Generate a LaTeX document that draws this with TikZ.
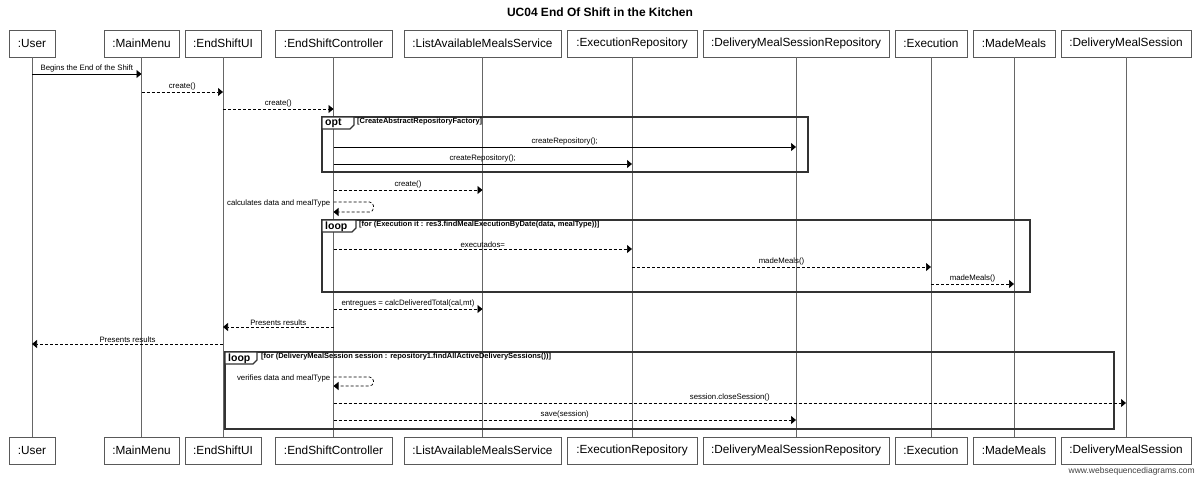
\documentclass[tikz,border=0pt]{standalone}
\usepackage{fontspec}
\setmainfont{Liberation Sans}
\usetikzlibrary{arrows.meta}
\tikzset{
 actor/.style={draw=black!65, line width=0.8pt, fill=white, minimum height=27pt, inner sep=0pt, font=\fontsize{11.8}{14}\selectfont},
 life/.style={draw=black!60, line width=0.9pt},
 msg/.style={-{Triangle[length=5pt,width=8pt]}, line width=0.7pt},
 ret/.style={msg, dash pattern=on 3pt off 2pt},
 lbl/.style={font=\fontsize{7.8}{9}\selectfont, inner sep=1.2pt, above},
 selflbl/.style={font=\fontsize{7.8}{9}\selectfont, inner sep=0pt, anchor=east},
 frame/.style={draw=black!80, line width=1.6pt},
 tabshape/.style={draw=black!80, line width=1.2pt, fill=white},
 guard/.style={font=\bfseries\fontsize{7.5}{9}\selectfont, anchor=west, inner sep=0pt},
 tablbl/.style={font=\bfseries\fontsize{10.5}{12}\selectfont, anchor=west, inner sep=0pt}
}
\begin{document}
\begin{tikzpicture}[x=1pt,y=-1pt]
\useasboundingbox[fill=white] (0,0) rectangle (1200,479);
\node[font=\bfseries\fontsize{12}{14}\selectfont] (title) at (600,12.5) {UC04 End Of Shift in the Kitchen};
% top actors
\node[actor, minimum width=46pt] (user) at (32,43.5) {:User};
\node[actor, minimum width=75pt] (menu) at (141.5,43.5) {:MainMenu};
\node[actor, minimum width=76pt] (ui) at (223,43.5) {:EndShiftUI};
\node[actor, minimum width=117pt] (ctrl) at (333.5,43.5) {:EndShiftController};
\node[actor, minimum width=157pt] (lams) at (482.5,43.5) {:ListAvailableMealsService};
\node[actor, minimum width=130pt] (erepo) at (632,43.5) {:ExecutionRepository};
\node[actor, minimum width=186pt] (drepo) at (796,43.5) {:DeliveryMealSessionRepository};
\node[actor, minimum width=72pt] (exec) at (931,43.5) {:Execution};
\node[actor, minimum width=82pt] (made) at (1014,43.5) {:MadeMeals};
\node[actor, minimum width=130pt] (dms) at (1126,43.5) {:DeliveryMealSession};
% bottom actors
\node[actor, minimum width=46pt] (userB) at (32,450.5) {:User};
\node[actor, minimum width=75pt] (menuB) at (141.5,450.5) {:MainMenu};
\node[actor, minimum width=76pt] (uiB) at (223,450.5) {:EndShiftUI};
\node[actor, minimum width=117pt] (ctrlB) at (333.5,450.5) {:EndShiftController};
\node[actor, minimum width=157pt] (lamsB) at (482.5,450.5) {:ListAvailableMealsService};
\node[actor, minimum width=130pt] (erepoB) at (632,450.5) {:ExecutionRepository};
\node[actor, minimum width=186pt] (drepoB) at (796,450.5) {:DeliveryMealSessionRepository};
\node[actor, minimum width=72pt] (execB) at (931,450.5) {:Execution};
\node[actor, minimum width=82pt] (madeB) at (1014,450.5) {:MadeMeals};
\node[actor, minimum width=130pt] (dmsB) at (1126,450.5) {:DeliveryMealSession};
% lifelines
\foreach \a in {user,menu,ui,ctrl,lams,erepo,drepo,exec,made,dms}
  \draw[life] (\a.south) -- (\a B.north);
% message rows
\coordinate (y1) at (0,74);
\coordinate (y2) at (0,92);
\coordinate (y3) at (0,109);
\coordinate (y4) at (0,147);
\coordinate (y5) at (0,164);
\coordinate (y6) at (0,190);
\coordinate (s1a) at (0,202);
\coordinate (s1b) at (0,212);
\coordinate (y7) at (0,249);
\coordinate (y8) at (0,267);
\coordinate (y9) at (0,284);
\coordinate (y10) at (0,309);
\coordinate (y11) at (0,327);
\coordinate (y12) at (0,344);
\coordinate (s2a) at (0,377);
\coordinate (s2b) at (0,386);
\coordinate (y13) at (0,403);
\coordinate (y14) at (0,420);
% frames
\coordinate (optA) at (322,117); \coordinate (optB) at (808,172);
\draw[frame] (optA) rectangle (optB);
\draw[tabshape] (optA) -- (322,129) -- (350,129) -- (354,125) -- (354,117) -- cycle;
\node[tablbl] (optlbl) at (325,123.5) {opt};
\node[guard] (optg) at (357,122) {[CreateAbstractRepositoryFactory]};
\coordinate (loopA) at (322,220); \coordinate (loopB) at (1030,292);
\draw[frame] (loopA) rectangle (loopB);
\draw[tabshape] (loopA) -- (322,232) -- (352,232) -- (356,228) -- (356,220) -- cycle;
\node[tablbl] (looplbl) at (325,226.5) {loop};
\node[guard] (loopg) at (359,225) {[for (Execution it : res3.findMealExecutionByDate(data, mealType))]};
\coordinate (loop2A) at (225,352); \coordinate (loop2B) at (1114,429);
\draw[frame] (loop2A) rectangle (loop2B);
\draw[tabshape] (loop2A) -- (225,364) -- (253,364) -- (257,360) -- (257,352) -- cycle;
\node[tablbl] (loop2lbl) at (228,358.5) {loop};
\node[guard] (loop2g) at (261,357) {[for (DeliveryMealSession session : repository1.findAllActiveDeliverySessions())]};
% messages
\draw[msg] (user |- y1) -- node[lbl] {Begins the End of the Shift} (menu |- y1);
\draw[ret] (menu |- y2) -- node[lbl] {create()} (ui |- y2);
\draw[ret] (ui |- y3) -- node[lbl] {create()} (ctrl |- y3);
\draw[msg] (ctrl |- y4) -- node[lbl] {createRepository();} (drepo |- y4);
\draw[msg] (ctrl |- y5) -- node[lbl] {createRepository();} (erepo |- y5);
\draw[ret] (ctrl |- y6) -- node[lbl] {create()} (lams |- y6);
\draw[ret, rounded corners=4pt] (ctrl |- s1a) -- ([xshift=40pt]ctrl |- s1a) -- ([xshift=40pt]ctrl |- s1b) -- (ctrl |- s1b);
\node[selflbl] (s1l) at ([xshift=-3pt,yshift=-1pt]ctrl |- s1a) {calculates data and mealType};
\draw[ret] (ctrl |- y7) -- node[lbl] {executados=} (erepo |- y7);
\draw[ret] (erepo |- y8) -- node[lbl] {madeMeals()} (exec |- y8);
\draw[ret] (exec |- y9) -- node[lbl] {madeMeals()} (made |- y9);
\draw[ret] (ctrl |- y10) -- node[lbl] {entregues = calcDeliveredTotal(cal,mt)} (lams |- y10);
\draw[ret] (ctrl |- y11) -- node[lbl] {Presents results} (ui |- y11);
\draw[ret] (ui |- y12) -- node[lbl] {Presents results} (user |- y12);
\draw[ret, rounded corners=4pt] (ctrl |- s2a) -- ([xshift=40pt]ctrl |- s2a) -- ([xshift=40pt]ctrl |- s2b) -- (ctrl |- s2b);
\node[selflbl] (s2l) at ([xshift=-3pt,yshift=-1pt]ctrl |- s2a) {verifies data and mealType};
\draw[ret] (ctrl |- y13) -- node[lbl] {session.closeSession()} (dms |- y13);
\draw[ret] (ctrl |- y14) -- node[lbl] {save(session)} (drepo |- y14);
\node[font=\fontsize{8.5}{9}\selectfont, text=black!75, anchor=east, inner sep=0pt] (wm) at (1195,471.5) {www.websequencediagrams.com};
\end{tikzpicture}
\end{document}
